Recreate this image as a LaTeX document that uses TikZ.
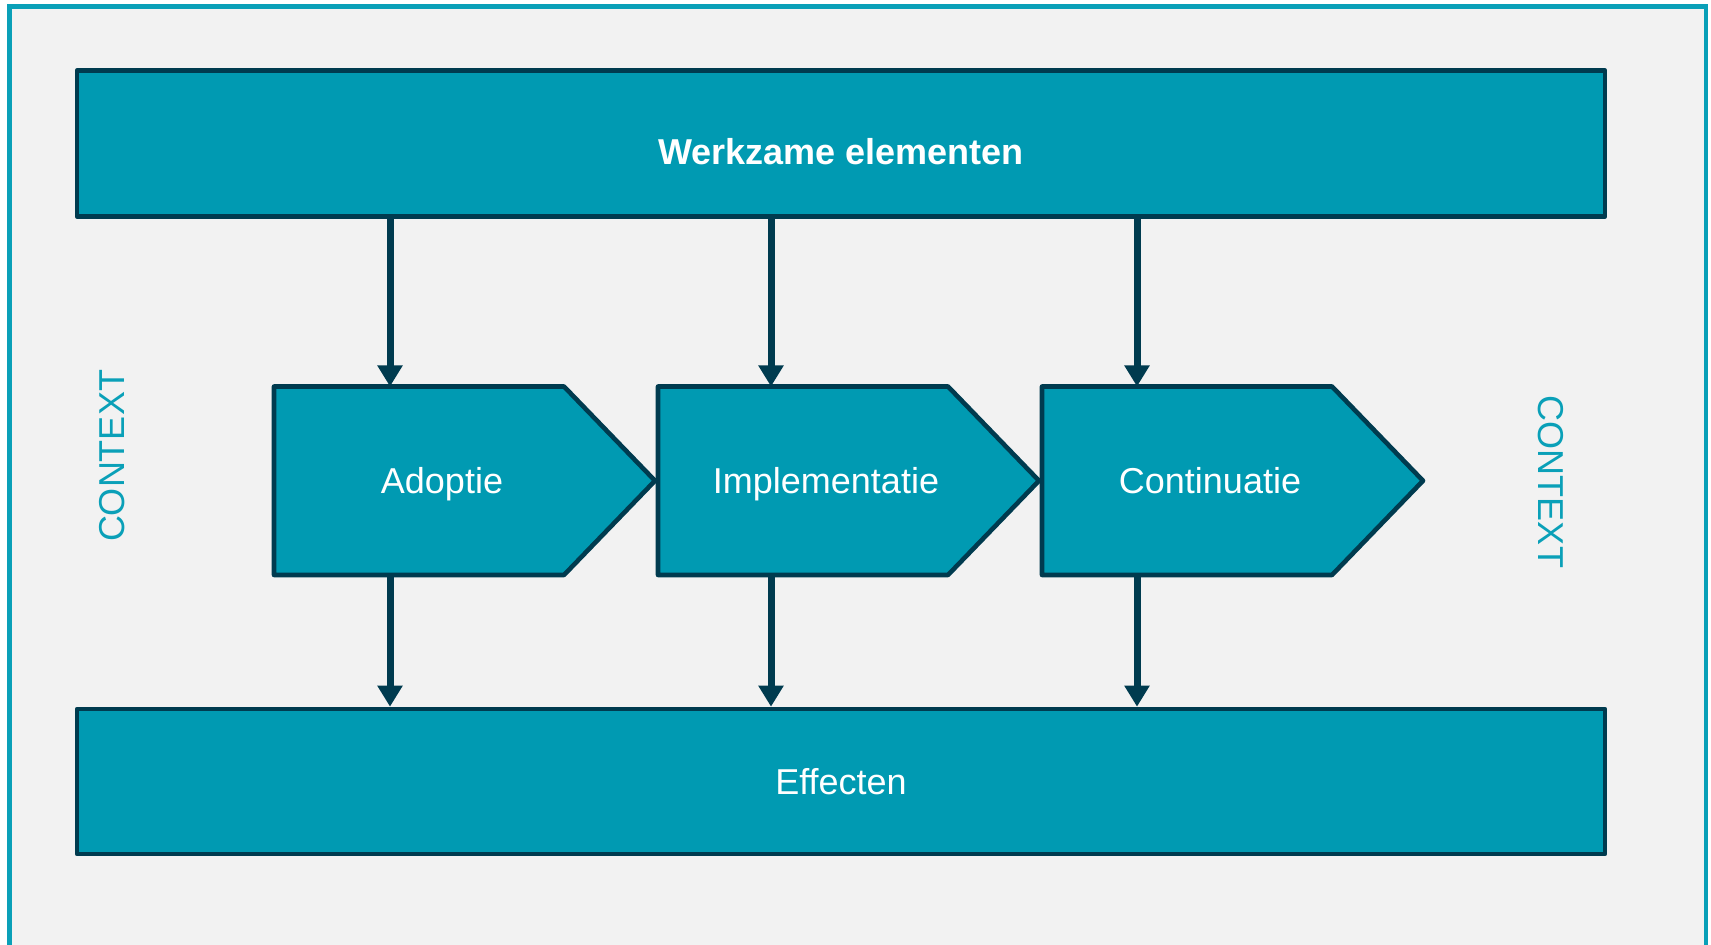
\documentclass[tikz,border=0pt]{standalone}
\usepackage{fontspec}
\setmainfont{Liberation Sans}
\usetikzlibrary{positioning,shapes.symbols,arrows.meta}
\definecolor{blauwgroen}{HTML}{009AB2}
\definecolor{donker}{HTML}{003B4F}
\definecolor{kader}{HTML}{0AA0B8}
\definecolor{achtergrond}{HTML}{F2F2F2}
\tikzset{
  balk/.style={draw=donker,fill=blauwgroen,line width=2.3pt,line join=round,minimum width=764pt,minimum height=#1,inner sep=0pt,text=white,font=\fontsize{18}{21.6}\selectfont},
  fase/.style={signal,signal to=east,signal pointer angle=92,draw=donker,fill=blauwgroen,line width=2.3pt,line join=round,minimum width=190.5pt,minimum height=94.25pt,inner sep=0pt,outer sep=0pt,text height=12.9pt,text depth=0pt,text=white,font=\fontsize{18}{21.6}\selectfont,execute at begin node=\hspace*{23pt}},
  pijl/.style={line width=3.5pt,draw=donker,-{Triangle[width=12pt,length=10.5pt]}},
  context/.style={text=kader,inner sep=0pt,font=\fontsize{18}{21.6}\selectfont}
}

\begin{document}
\begin{tikzpicture}[x=0.5pt,y=-0.5pt]
	\useasboundingbox[fill=white] (0,0) rectangle (1711,945);
	\draw[kader,line width=2.2pt,fill=achtergrond] (9.5,6.5) rectangle (1706,960);

	\node[balk=73pt,text height=21.5pt,text depth=0pt] (boven) at (841,143.5) {\textbf{Werkzame elementen}};
	\node[balk=72.5pt,text height=12.9pt,text depth=0pt] (effecten) at (841,781.5) {Effecten};

	\node[fase,anchor=west] (adoptie) at (274,480.75) {Adoptie};
	\node[fase,right=1.5pt of adoptie] (implementatie) {Implementatie};
	\node[fase,right=1.5pt of implementatie] (continuatie) {Continuatie};

	\node[context,rotate=90] (contextlinks) at (112,456) {CONTEXT};
	\node[context,rotate=-90] (contextrechts) at (1551,482) {CONTEXT};

	\foreach \Fase/\Verschuiving in {adoptie/58,implementatie/56.5,continuatie/47.5} {
		\draw[pijl] ([xshift=\Verschuiving pt]\Fase.north west |- boven.south) -- ([xshift=\Verschuiving pt]\Fase.north west);
		\draw[pijl] ([xshift=\Verschuiving pt]\Fase.south west) -- ([xshift=\Verschuiving pt]\Fase.south west |- effecten.north);
	}
\end{tikzpicture}
\end{document}
